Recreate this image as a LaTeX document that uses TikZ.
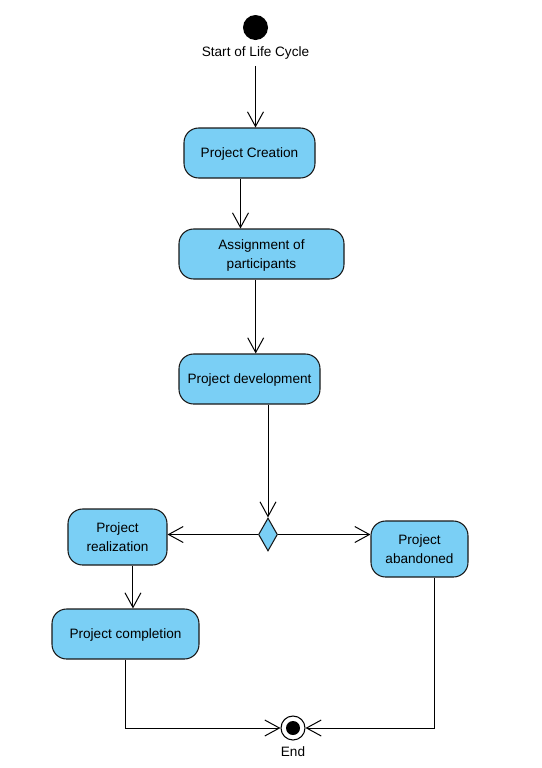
\documentclass[tikz,border=0pt]{standalone}
\usepackage{fontspec}
\setmainfont{Liberation Sans}
\usetikzlibrary{shapes.geometric,arrows.meta}
\definecolor{actfill}{RGB}{122,207,245}
\tikzset{
  act/.style={draw=black!90, fill=actfill, rounded corners=11pt, line width=0.8pt,
    align=center, inner sep=0pt, text depth=0pt, font=\fontsize{10.2pt}{13.7pt}\selectfont},
  flow/.style={line width=0.75pt, -{Straight Barb[length=11pt,width=12pt,line width=0.75pt]}},
  lbl/.style={font=\fontsize{10.2pt}{12pt}\selectfont, inner sep=0pt}
}
\begin{document}
\begin{tikzpicture}[x=0.75pt,y=-0.75pt]
\useasboundingbox (0,0) rectangle (542,768);
% initial and final states
\node[circle, fill=black, minimum size=18.75pt, inner sep=0pt] (start) at (255.5,27.5) {};
\node[lbl] (startlbl) at (255.5,52.5) {Start of Life Cycle};
\node[circle, draw=black, fill=white, line width=0.8pt, minimum size=18pt, inner sep=0pt] (end) at (293,728) {};
\fill (end.center) circle (5.25pt);
\node[lbl] (endlbl) at (293,751.5) {End};
% actions
\node[act, minimum width=98.25pt, minimum height=37.5pt] (create) at (249.5,153) {Project Creation};
\node[act, minimum width=123.75pt, minimum height=37.5pt] (assign) at (261.5,254) {Assignment of\\participants};
\node[act, minimum width=105.75pt, minimum height=37.5pt] (develop) at (249.5,379) {Project development};
\node[act, minimum width=74.25pt, minimum height=42pt] (realize) at (117.5,537) {Project\\realization};
\node[act, minimum width=72.75pt, minimum height=42pt] (abandon) at (419.5,549) {Project\\abandoned};
\node[act, minimum width=110.25pt, minimum height=37.5pt] (complete) at (125.5,634) {Project completion};
% decision
\node[diamond, draw=black!90, fill=actfill, line width=0.8pt, minimum width=14.25pt, minimum height=24.75pt, inner sep=0pt] (dec) at (268,534.5) {};
% control flows
\draw[flow] ([yshift=-5pt]startlbl.south) coordinate (s0) -- (s0 |- create.north);
\draw[flow] ([xshift=-6.75pt]create.south) coordinate (s1) -- (s1 |- assign.north);
\draw[flow] ([xshift=-4.35pt]assign.south) coordinate (s2) -- (s2 |- develop.north);
\draw[flow] (develop.south -| dec.north) -- (dec.north);
\draw[flow] (dec.west) -- (dec.west -| realize.east);
\draw[flow] (dec.east) -- (dec.east -| abandon.west);
\draw[flow] ([xshift=11.6pt]realize.south) coordinate (s3) -- (s3 |- complete.north);
\draw[flow] (complete.south) |- (end.west);
\draw[flow] ([xshift=10.9pt]abandon.south) |- (end.east);
\end{tikzpicture}
\end{document}
